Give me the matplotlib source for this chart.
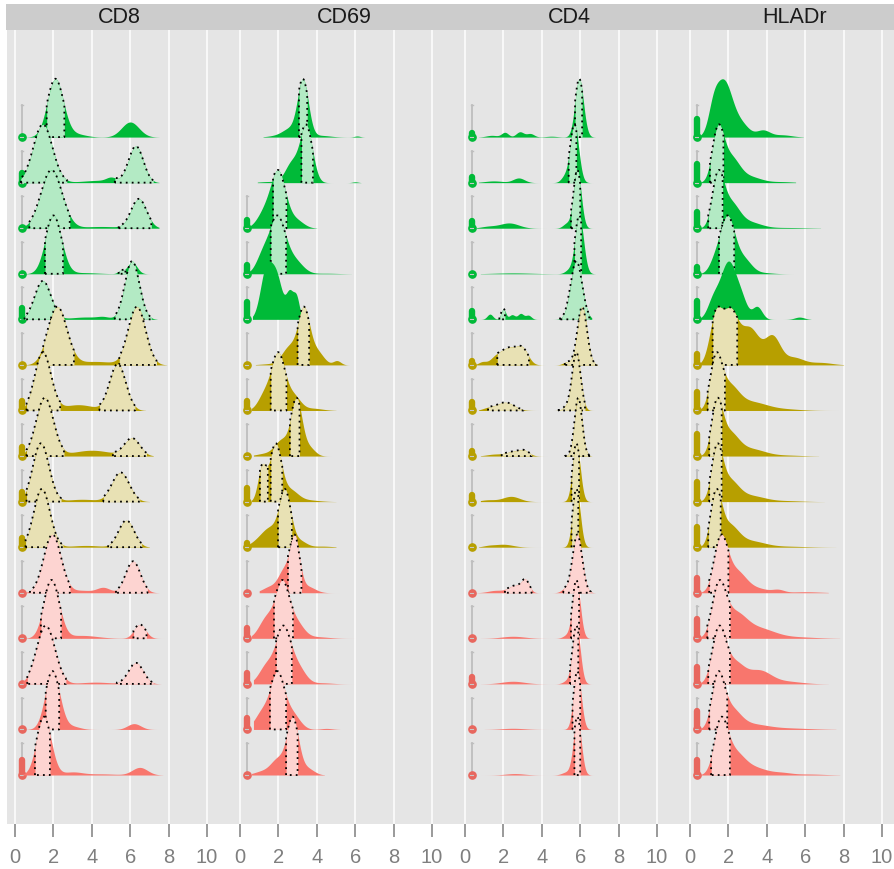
import numpy as np
import matplotlib.pyplot as plt
from matplotlib.patches import Rectangle

plt.rcParams['font.family'] = ['Liberation Sans', 'DejaVu Sans']

markers = ['CD8', 'CD69', 'CD4', 'HLADr']
x_ticks = [0, 2, 4, 6, 8, 10]

# rows are listed top to bottom: 5 green, 5 olive, 5 red samples
row_group = [0] * 5 + [1] * 5 + [2] * 5
fill_cols = ['#00BA38', '#B79F00', '#F8766D']
gate_cols = ['#B3EAC4', '#E8E1B4', '#FDD4D1']
box_cols = ['#00BA38', '#B79F00', '#E8675E']

# density peaks per row: (centre, sd, relative height)
cd8_peaks = [
    [(2.1, 0.42, 1.0), (6.0, 0.45, 0.26), (3.2, 0.5, 0.05)],
    [(1.45, 0.5, 1.0), (6.3, 0.38, 0.62), (4.5, 1.0, 0.04), (5.0, 0.25, 0.06)],
    [(1.9, 0.55, 1.0), (6.45, 0.4, 0.5), (4.5, 1.0, 0.03)],
    [(2.0, 0.42, 1.0), (6.1, 0.25, 0.2), (5.5, 0.15, 0.05), (3.5, 0.8, 0.02)],
    [(1.45, 0.42, 0.66), (6.1, 0.38, 1.0), (3.7, 0.8, 0.04), (4.6, 0.3, 0.03)],
    [(2.2, 0.5, 1.0), (6.35, 0.45, 1.0), (4.2, 1.0, 0.06)],
    [(1.45, 0.42, 1.0), (5.35, 0.42, 0.8), (3.3, 0.8, 0.1)],
    [(1.55, 0.45, 1.0), (6.1, 0.4, 0.3), (4.0, 1.0, 0.1)],
    [(1.35, 0.42, 1.0), (5.5, 0.45, 0.5), (3.5, 0.8, 0.04)],
    [(1.4, 0.42, 1.0), (5.8, 0.4, 0.46), (3.7, 0.8, 0.03)],
    [(1.95, 0.45, 1.0), (6.15, 0.38, 0.54), (4.6, 0.35, 0.09), (3.5, 0.5, 0.04)],
    [(1.9, 0.4, 1.0), (6.5, 0.3, 0.24), (3.5, 0.8, 0.05)],
    [(1.6, 0.48, 1.0), (6.3, 0.38, 0.36), (4.2, 0.8, 0.03)],
    [(1.95, 0.38, 1.0), (6.2, 0.35, 0.1), (3.0, 0.4, 0.05)],
    [(1.5, 0.38, 1.0), (6.5, 0.4, 0.13), (3.0, 0.5, 0.05), (4.5, 0.8, 0.02)],
]
cd8_span = [(0.5, 7.5), (0.3, 7.5), (0.4, 7.5), (0.4, 7.3), (0.3, 7.4),
            (0.4, 7.9), (0.5, 6.8), (0.5, 7.2), (0.4, 7.0), (0.4, 7.0),
            (0.4, 7.5), (0.5, 7.8), (0.4, 7.6), (0.4, 7.6), (0.4, 7.7)]
cd8_gates = [
    [(1.65, 2.57)], [(0.3, 2.7), (5.2, 7.2)], [(0.75, 2.85), (5.4, 7.1)],
    [(1.56, 2.5), (5.4, 5.75)], [(0.5, 2.35), (5.2, 7.1)],
    [(1.47, 3.07), (5.43, 7.37)], [(0.6, 2.35), (4.4, 6.25)],
    [(0.6, 2.55), (5.1, 6.85)], [(0.6, 2.4), (4.6, 6.5)],
    [(0.55, 2.5), (4.85, 6.6)], [(0.78, 2.86), (5.26, 6.9)],
    [(1.35, 2.4), (6.17, 6.85)], [(0.64, 2.65), (5.3, 7.2)],
    [(1.6, 2.3)], [(1.04, 1.82)],
]
cd8_box = [0.0, 0.22, 0.0, 0.0, 0.24, 0.0, 0.2, 0.2, 0.22, 0.2,
           0.0, 0.0, 0.0, 0.0, 0.33]

cd69_peaks = [
    [(3.28, 0.28, 1.0), (2.6, 0.4, 0.15), (1.8, 0.4, 0.02), (4.2, 0.5, 0.03), (6.1, 0.15, 0.02)],
    [(3.45, 0.32, 1.0), (2.7, 0.35, 0.35), (1.5, 0.5, 0.02), (6.0, 0.15, 0.015)],
    [(2.0, 0.38, 1.0), (1.3, 0.4, 0.3), (2.9, 0.4, 0.15)],
    [(1.95, 0.4, 1.0), (1.2, 0.35, 0.35), (2.8, 0.45, 0.25), (4.5, 0.6, 0.01)],
    [(1.35, 0.3, 1.0), (1.9, 0.3, 0.85), (2.6, 0.2, 0.55), (2.95, 0.15, 0.4)],
    [(3.33, 0.3, 1.0), (2.6, 0.4, 0.35), (4.0, 0.35, 0.25), (5.05, 0.2, 0.08), (1.5, 0.5, 0.02)],
    [(2.0, 0.35, 1.0), (1.3, 0.35, 0.3), (2.8, 0.35, 0.25), (3.8, 0.5, 0.04)],
    [(2.95, 0.28, 1.0), (2.2, 0.4, 0.3), (3.6, 0.3, 0.15), (1.2, 0.4, 0.04)],
    [(1.15, 0.22, 0.6), (1.85, 0.3, 1.0), (2.6, 0.4, 0.2), (3.5, 0.6, 0.03)],
    [(2.35, 0.3, 1.0), (1.6, 0.45, 0.35), (0.9, 0.4, 0.08), (3.1, 0.35, 0.12), (4.3, 0.5, 0.02)],
    [(2.85, 0.25, 1.0), (2.3, 0.3, 0.4), (1.6, 0.4, 0.12), (3.5, 0.4, 0.12)],
    [(2.2, 0.35, 1.0), (1.4, 0.4, 0.4), (2.9, 0.4, 0.3), (4.0, 0.6, 0.03)],
    [(2.25, 0.38, 1.0), (1.4, 0.4, 0.35), (3.0, 0.4, 0.3), (4.3, 0.5, 0.02)],
    [(1.95, 0.35, 1.0), (1.2, 0.4, 0.35), (2.7, 0.4, 0.3), (4.5, 0.3, 0.02)],
    [(2.75, 0.3, 1.0), (2.0, 0.4, 0.3), (1.1, 0.4, 0.06), (3.5, 0.35, 0.12)],
]
cd69_span = [(1.2, 6.5), (0.9, 6.3), (0.5, 4.0), (0.5, 5.8), (0.65, 3.15),
             (0.8, 5.7), (0.6, 5.0), (0.7, 5.5), (0.6, 5.0), (0.5, 5.0),
             (1.0, 5.3), (0.6, 6.0), (0.7, 6.0), (0.7, 5.2), (0.6, 4.4)]
cd69_gates = [
    [(3.07, 3.5)], [(3.2, 3.8)], [(1.72, 2.42)], [(1.6, 2.4)], [],
    [(3.0, 3.6)], [(1.6, 2.42)], [(2.6, 3.1)], [(1.04, 1.45), (1.6, 2.2)],
    [(1.98, 2.7)], [(2.5, 3.2)], [(1.77, 2.76)], [(1.88, 2.7)],
    [(1.56, 2.4)], [(2.4, 3.0)],
]
cd69_box = [None, None, 0.18, 0.2, 0.37, 0.0, 0.2, 0.0, 0.3, 0.1,
            0.0, 0.22, 0.24, 0.26, 0.0]

cd4_peaks = [
    [(5.95, 0.22, 1.0), (2.08, 0.18, 0.08), (2.86, 0.2, 0.09), (3.4, 0.2, 0.06), (1.4, 0.3, 0.03), (4.5, 0.3, 0.015)],
    [(5.7, 0.22, 1.0), (2.8, 0.3, 0.08), (1.5, 0.5, 0.03), (5.2, 0.2, 0.1)],
    [(5.85, 0.2, 1.0), (2.3, 0.5, 0.09), (1.2, 0.4, 0.03), (5.3, 0.2, 0.08)],
    [(5.95, 0.22, 1.0), (2.5, 1.0, 0.015), (5.4, 0.2, 0.06)],
    [(5.8, 0.3, 1.0), (1.3, 0.15, 0.09), (2.0, 0.12, 0.18), (2.45, 0.15, 0.08), (2.9, 0.15, 0.1), (3.3, 0.15, 0.07)],
    [(6.1, 0.25, 1.0), (2.3, 0.4, 0.28), (3.0, 0.3, 0.25), (1.6, 0.3, 0.12), (0.9, 0.2, 0.05), (5.3, 0.2, 0.05)],
    [(5.8, 0.22, 1.0), (2.1, 0.45, 0.14), (1.2, 0.3, 0.04), (5.3, 0.2, 0.06)],
    [(5.9, 0.2, 1.0), (2.6, 0.45, 0.08), (3.1, 0.25, 0.06), (1.5, 0.4, 0.03)],
    [(5.8, 0.2, 1.0), (2.4, 0.45, 0.09), (1.2, 0.4, 0.03)],
    [(5.8, 0.2, 1.0), (2.0, 0.5, 0.05), (1.2, 0.3, 0.02)],
    [(5.85, 0.25, 1.0), (3.15, 0.2, 0.2), (2.6, 0.35, 0.12), (1.6, 0.4, 0.04), (5.2, 0.2, 0.06)],
    [(5.8, 0.2, 1.0), (2.5, 0.6, 0.035), (5.3, 0.2, 0.05)],
    [(5.8, 0.2, 1.0), (2.5, 0.6, 0.045), (5.3, 0.2, 0.05)],
    [(5.85, 0.2, 1.0), (2.5, 0.6, 0.02)],
    [(5.85, 0.2, 1.0), (2.6, 0.5, 0.025), (5.3, 0.25, 0.05)],
]
cd4_span = [(0.7, 6.8), (0.7, 7.0), (0.6, 8.0), (0.8, 6.8), (0.6, 6.6),
            (0.5, 6.9), (0.7, 7.0), (0.8, 6.6), (0.8, 6.7), (0.7, 6.7),
            (0.6, 6.8), (0.8, 6.8), (0.8, 6.8), (1.0, 6.8), (0.8, 6.9)]
cd4_gates = [
    [(5.73, 6.1)], [(5.4, 5.8)], [(5.52, 6.0)], [(5.7, 6.05)],
    [(1.79, 2.08), (4.95, 6.47)], [(1.68, 3.33), (5.2, 6.86)],
    [(1.2, 3.04), (4.86, 6.25)], [(1.91, 3.47), (5.2, 6.6)],
    [(5.55, 5.94)], [(5.55, 5.9)], [(2.08, 3.47), (5.12, 6.56)],
    [(5.52, 5.94)], [(5.47, 5.9)], [(5.6, 6.0)], [(5.7, 6.0)],
]
cd4_box = [0.1, 0.13, 0.15, 0.0, 0.18, 0.08, 0.18, 0.1, 0.15, 0.0,
           0.0, 0.0, 0.15, 0.0, 0.0]

hla_peaks = [
    [(1.75, 0.45, 1.0), (1.2, 0.25, 0.3), (2.7, 0.4, 0.2), (3.8, 0.35, 0.12), (4.8, 0.5, 0.04)],
    [(1.45, 0.3, 1.0), (2.1, 0.45, 0.5), (3.1, 0.6, 0.12), (4.8, 0.6, 0.02)],
    [(1.45, 0.3, 1.0), (2.1, 0.45, 0.5), (3.1, 0.6, 0.12), (5.0, 1.0, 0.015)],
    [(1.95, 0.38, 1.0), (1.3, 0.3, 0.2), (2.8, 0.4, 0.25), (3.8, 0.5, 0.02)],
    [(2.0, 0.42, 1.0), (1.2, 0.3, 0.3), (2.7, 0.3, 0.25), (3.5, 0.25, 0.22), (5.7, 0.25, 0.04)],
    [(1.35, 0.33, 0.8), (2.1, 0.38, 0.8), (3.1, 0.5, 0.6), (4.3, 0.4, 0.45), (5.4, 0.5, 0.12), (6.8, 0.6, 0.04)],
    [(1.35, 0.3, 1.0), (2.0, 0.5, 0.5), (3.2, 0.8, 0.18), (5.0, 0.8, 0.03)],
    [(1.4, 0.28, 1.0), (2.0, 0.5, 0.5), (3.2, 0.7, 0.15), (5.0, 0.8, 0.02)],
    [(1.4, 0.28, 1.0), (2.0, 0.5, 0.45), (3.2, 0.7, 0.12), (5.0, 0.8, 0.02)],
    [(1.35, 0.28, 1.0), (2.0, 0.5, 0.45), (3.2, 0.7, 0.12), (5.0, 1.0, 0.02)],
    [(1.6, 0.35, 1.0), (2.4, 0.5, 0.4), (3.5, 0.6, 0.08), (4.6, 0.3, 0.05), (6.0, 0.8, 0.02)],
    [(1.5, 0.35, 1.0), (2.3, 0.6, 0.5), (3.6, 0.8, 0.2), (5.5, 1.0, 0.03)],
    [(1.5, 0.35, 1.0), (2.3, 0.5, 0.4), (3.6, 0.6, 0.25), (5.0, 0.8, 0.05)],
    [(1.45, 0.32, 1.0), (2.1, 0.5, 0.4), (3.2, 0.8, 0.1), (5.0, 1.2, 0.03)],
    [(1.6, 0.35, 1.0), (2.3, 0.5, 0.4), (3.3, 0.7, 0.15), (4.8, 0.5, 0.04), (6.2, 0.8, 0.02)],
]
hla_span = [(0.45, 5.9), (0.5, 5.5), (0.4, 6.8), (0.5, 5.4), (0.5, 6.3),
            (0.45, 8.0), (0.4, 8.3), (0.4, 6.7), (0.4, 7.0), (0.4, 7.6),
            (0.4, 7.2), (0.4, 7.8), (0.4, 7.2), (0.4, 7.6), (0.4, 7.8)]
hla_gates = [
    [], [(1.04, 1.74)], [(0.95, 1.7)], [(1.51, 2.3)], [],
    [(1.18, 2.46)], [(0.92, 1.82)], [(1.0, 1.65)], [(1.0, 1.65)],
    [(0.95, 1.6)], [(1.0, 2.0)], [(0.9, 2.08)], [(0.95, 2.08)],
    [(1.0, 1.94)], [(1.1, 2.08)],
]
hla_box = [0.4, 0.42, 0.35, 0.15, 0.4, 0.24, 0.4, 0.48, 0.44, 0.44,
           0.33, 0.42, 0.37, 0.4, 0.33]

PEAK = 1.28   # every density is scaled to the same height (in row units)
BOX_X = 0.35


def density(x, peaks):
    y = np.zeros_like(x)
    for mu, sd, w in peaks:
        y += w * np.exp(-0.5 * ((x - mu) / sd) ** 2)
    return y


def draw_panel(ax, peaks, spans, gates, boxes):
    n = len(peaks)
    for k in range(n):
        base = n - 1 - k
        g = row_group[k]
        z = 2 + k

        #boxplot at the lower edge
        if boxes[k] is not None:
            ax.plot([BOX_X, BOX_X], [base, base + 0.7], color='#BEBEBE', lw=1.3, zorder=z)
            ax.plot([BOX_X - 0.06, BOX_X + 0.06], [base + 0.7] * 2, color='#BEBEBE', lw=1.0, zorder=z)
            ax.plot(BOX_X, base, 'o', ms=5.2, mfc=box_cols[g], mec=box_cols[g], zorder=z + 0.1)
            if boxes[k] > 0:
                ax.plot([BOX_X, BOX_X], [base, base + boxes[k]], color=box_cols[g],
                        lw=4.6, solid_capstyle='round', zorder=z + 0.1)
            ax.plot([BOX_X - 0.07, BOX_X + 0.07], [base, base], color='#C8C8C8', lw=0.8, zorder=z + 0.15)

        x = np.linspace(spans[k][0], spans[k][1], 600)
        y = density(x, peaks[k])
        scale = PEAK / y.max()
        ax.fill_between(x, base, base + y * scale, color=fill_cols[g], lw=0, zorder=z + 0.2)

        for lo, hi in gates[k]:
            inside = x[(x > lo) & (x < hi)]
            xs = np.concatenate([[lo], inside, [hi]])
            ys = base + density(xs, peaks[k]) * scale
            ax.fill_between(xs, base, ys, color=gate_cols[g], lw=0, zorder=z + 0.3)
            ax.plot(np.r_[lo, xs, hi, lo], np.r_[base, ys, base, base], color='black',
                    lw=1.3, ls=(0, (1, 2.3)), zorder=z + 0.4)


W, H = 895, 869
fig = plt.figure(figsize=(W / 100, H / 100), dpi=100)

panel_w = 225
left0 = 7
bottom_px, top_px = 45, 839
x_per_px = 1 / 19.2

all_peaks = [cd8_peaks, cd69_peaks, cd4_peaks, hla_peaks]
all_spans = [cd8_span, cd69_span, cd4_span, hla_span]
all_gates = [cd8_gates, cd69_gates, cd4_gates, hla_gates]
all_boxes = [cd8_box, cd69_box, cd4_box, hla_box]

for i, name in enumerate(markers):
    ax = fig.add_axes([(left0 + panel_w * i) / W, bottom_px / H, panel_w / W, (top_px - bottom_px) / H])
    ax.set_facecolor('#E5E5E5')
    draw_panel(ax, all_peaks[i], all_spans[i], all_gates[i], all_boxes[i])
    x0 = -8 * x_per_px
    ax.set_xlim(x0, x0 + panel_w * x_per_px)
    ax.set_ylim(-1.075, 16.35)
    ax.set_xticks(x_ticks)
    ax.set_yticks([])
    ax.grid(axis='x', color='white', lw=1.1)
    ax.set_axisbelow(True)
    ax.tick_params(axis='x', color='#7F7F7F', labelcolor='#7F7F7F', length=9.5, width=1.1,
                   labelsize=14.5, pad=8)
    for s in ax.spines.values():
        s.set_visible(False)

    # strip label
    fig.text((left0 + panel_w * i + panel_w / 2) / W, (H - 17.5) / H, name,
             ha='center', va='center', fontsize=15.5, color='#1A1A1A')

fig.patches.append(Rectangle((6 / W, top_px / H), 1, 26 / H, transform=fig.transFigure,
                             facecolor='#CCCCCC', edgecolor='none', zorder=0))

fig.savefig('out.png', dpi=100)
